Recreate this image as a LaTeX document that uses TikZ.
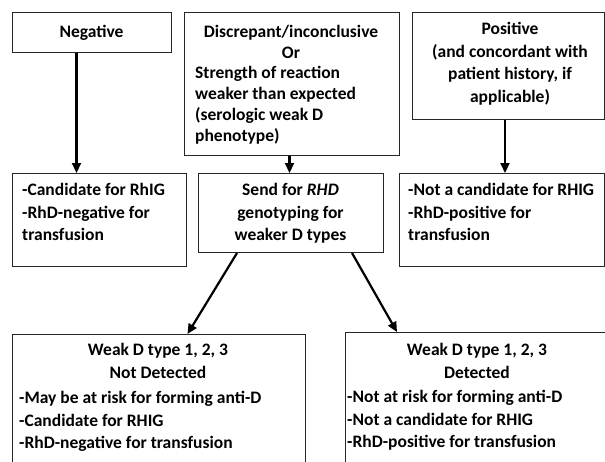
\documentclass[tikz,border=0pt]{standalone}
\usepackage{fontspec}
\setmainfont{Carlito}
\usetikzlibrary{arrows.meta}
\begin{document}
\begin{tikzpicture}[x=1pt,y=-1pt,
 box/.style={draw=black!85, line width=1pt, inner sep=0, anchor=north west},
 txt/.style={inner sep=0, font=\fontsize{17.5}{22.5}\selectfont\bfseries},
 txtd/.style={inner sep=0, font=\fontsize{17.5}{21}\selectfont\bfseries},
 arr/.style={line width=2.2pt, -{Triangle[width=9pt,length=10pt]}}]
\clip (0,0) rectangle (605,461);
\useasboundingbox (0,0) rectangle (605,461);
% boxes
\node[box, minimum width=159, minimum height=40] (neg) at (12,12) {};
\node[box, minimum width=215, minimum height=143] (disc) at (184,12) {};
\node[box, minimum width=192, minimum height=107] (pos) at (412,12) {};
\node[box, minimum width=174, minimum height=93] (cand) at (12,173) {};
\node[box, minimum width=185, minimum height=79] (send) at (198,173) {};
\node[box, minimum width=205, minimum height=93] (notc) at (399,173) {};
\node[box, minimum width=293, minimum height=150] (nd) at (12,334) {};
\node[box, minimum width=280, minimum height=150] (det) at (345,332) {};
% texts
\node[txt, anchor=north] (tneg) at (91.5,21.6) {\strut Negative};
\node[txtd, anchor=north, align=center] (tdisc1) at (291,22.6) {\strut Discrepant/inconclusive\\Or};
\node[txtd, anchor=north west, align=left] (tdisc2) at (195,63.6) {\strut Strength of reaction\\weaker than expected\\(serologic weak D\\phenotype)};
\node[txt, anchor=north, align=center] (tpos) at (510,18.6) {\strut Positive\\(and concordant with\\patient history, if\\applicable)};
\node[txt, anchor=north west, align=left] (tcand) at (22,179.6) {\strut -Candidate for RhIG\\-RhD-negative for\\transfusion};
\node[txt, anchor=north, align=center] (tsend) at (290.5,179.6) {\strut Send for \textit{RHD}\\genotyping for\\weaker D types};
\node[txt, anchor=north west, align=left] (tnotc) at (408,179.6) {\strut -Not a candidate for RHIG\\-RhD-positive for\\transfusion};
\node[txt, anchor=north, align=center] (tnd1) at (158,339.6) {\strut Weak D type 1, 2, 3\\Not Detected};
\node[txt, anchor=north west, align=left] (tnd2) at (19,387.6) {\strut -May be at risk for forming anti-D\\-Candidate for RHIG\\-RhD-negative for transfusion};
\node[txt, anchor=north, align=center] (tdet1) at (477,339.6) {\strut Weak D type 1, 2, 3\\Detected};
\node[txt, anchor=north west, align=left] (tdet2) at (347,386.6) {\strut -Not at risk for forming anti-D\\-Not a candidate for RHIG\\-RhD-positive for transfusion};
% arrows
\draw[arr] ([xshift=-15.5pt]neg.south) -- ([xshift=-23pt]cand.north);
\draw[arr] ([xshift=-2.5pt]disc.south) -- ([xshift=-1.5pt]send.north);
\draw[arr] ([xshift=-3.5pt]pos.south) -- ([xshift=3pt]notc.north);
\draw[arr] ([xshift=39pt]send.south west) -- ([xshift=28.5pt]nd.north);
\draw[arr] ([xshift=-32pt]send.south east) -- ([xshift=52pt]det.north west);
\end{tikzpicture}
\end{document}
